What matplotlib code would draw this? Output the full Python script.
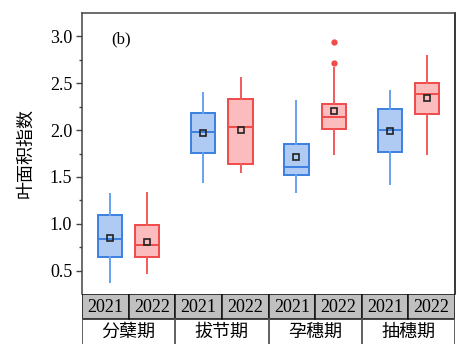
import matplotlib.pyplot as plt
from matplotlib.patches import Rectangle

plt.rcParams['font.family'] = ['Liberation Serif', 'Noto Sans CJK SC']

stages = ['分蘖期', '拔节期', '孕穗期', '抽穗期']
years = ['2021', '2022']

# per box: stage order, 2021 then 2022
whislo = [0.38, 0.47, 1.45, 1.55, 1.34, 1.75, 1.42, 1.74]
q1 = [0.65, 0.64, 1.76, 1.64, 1.52, 2.01, 1.77, 2.17]
med = [0.84, 0.77, 1.98, 2.03, 1.61, 2.14, 2.00, 2.38]
mean = [0.85, 0.81, 1.97, 2.00, 1.71, 2.20, 1.99, 2.34]
q3 = [1.09, 0.99, 2.18, 2.33, 1.85, 2.28, 2.23, 2.50]
whishi = [1.32, 1.33, 2.40, 2.56, 2.31, 2.66, 2.42, 2.79]
fliers = [[], [], [], [], [], [2.72, 2.94], [], []]

fills = ['#afcbf3', '#fcbcbe']
edges = ['#3b7fe0', '#f04a4a']
whisk = ['#66a2ee', '#f25a5a']

fig = plt.figure(figsize=(4.66, 3.56), dpi=100)
ax = fig.add_axes([82 / 466, 1 - 294 / 356, 373 / 466, 281 / 356])

for i in range(8):
    g, y = divmod(i, 2)
    pos = 2 * g + 1 + (0.4 if y else -0.4)
    st = dict(whislo=whislo[i], q1=q1[i], med=med[i], mean=mean[i],
              q3=q3[i], whishi=whishi[i], fliers=fliers[i])
    ax.bxp([st], positions=[pos], widths=0.52, patch_artist=True,
           showmeans=True, showcaps=False,
           boxprops=dict(facecolor=fills[y], edgecolor=edges[y], linewidth=1.4),
           medianprops=dict(color=edges[y], linewidth=1.4),
           whiskerprops=dict(color=whisk[y], linewidth=1.4),
           meanprops=dict(marker='s', markerfacecolor='none',
                          markeredgecolor='#222222', markersize=4.5,
                          markeredgewidth=1.2),
           flierprops=dict(marker='o', markerfacecolor=edges[y],
                           markeredgecolor=edges[y], markersize=3.5))

ax.set_xlim(0, 8)
ax.set_ylim(0.25, 3.25)
ax.set_yticks([0.5, 1.0, 1.5, 2.0, 2.5, 3.0])
ax.set_yticklabels(['%.1f' % v for v in [0.5, 1.0, 1.5, 2.0, 2.5, 3.0]])
ax.set_yticks([0.75, 1.25, 1.75, 2.25, 2.75], minor=True)
ax.set_xticks([])
ax.tick_params(axis='y', which='major', direction='out', length=4,
               width=1, labelsize=13, color='#444444', pad=3)
ax.tick_params(axis='y', which='minor', direction='out', length=2,
               width=1, color='#444444')
for s in ['left', 'top']:
    ax.spines[s].set_color('#444444')
ax.spines['right'].set_color('black')
ax.spines['bottom'].set_visible(False)
for s in ax.spines.values():
    s.set_linewidth(1.1)
ax.set_ylabel('叶面积指数', fontsize=13, family=['Noto Sans CJK SC'], labelpad=11)
ax.text(0.105, 0.905, '(b)', transform=ax.transAxes, fontsize=12,
        ha='center', va='center')

# category table under the plot
tb = fig.add_axes([82 / 466, 1 - 344 / 356, 373 / 466, 50 / 356])
tb.set_xlim(0, 8)
tb.set_ylim(0, 50)
tb.axis('off')
for i in range(8):
    tb.add_patch(Rectangle((i, 25), 1, 25, facecolor='#c0c0c0',
                           edgecolor='#111111', linewidth=1.1))
    tb.text(i + 0.5, 37, years[i % 2], ha='center', va='center', fontsize=13)
for g in range(5):
    tb.plot([2 * g, 2 * g], [0, 25], color='#555555', linewidth=1.3)
for g in range(4):
    tb.text(2 * g + 1, 12, stages[g], ha='center', va='center', fontsize=13,
            family=['Noto Sans CJK SC'])

fig.savefig('out.png', dpi=100)
